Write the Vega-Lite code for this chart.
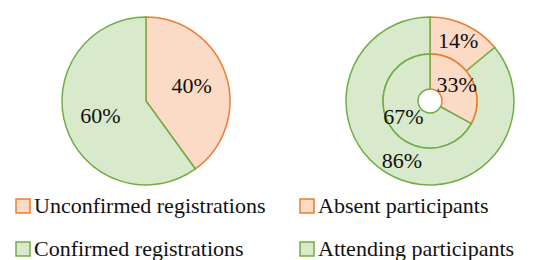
{
  "$schema": "https://vega.github.io/schema/vega-lite/v6.json",
  "width": 553,
  "height": 202,
  "padding": 0,
  "autosize": {"type": "pad"},
  "background": "white",
  "config": {"view": {"stroke": null}, "font": "Liberation Serif"},
  "data": {
    "values": [
      {"chart": "left", "ring": "pie", "cat": "Unconfirmed registrations", "ord": 1, "value": 40, "label": "40%"},
      {"chart": "left", "ring": "pie", "cat": "Confirmed registrations", "ord": 2, "value": 60, "label": "60%"},
      {"chart": "right", "ring": "outer", "cat": "Absent participants", "ord": 1, "value": 14, "label": "14%"},
      {"chart": "right", "ring": "outer", "cat": "Attending participants", "ord": 2, "value": 86, "label": "86%"},
      {"chart": "right", "ring": "inner", "cat": "Absent participants", "ord": 1, "value": 33, "label": "33%"},
      {"chart": "right", "ring": "inner", "cat": "Attending participants", "ord": 2, "value": 67, "label": "67%"}
    ]
  },
  "encoding": {
    "x": {"field": "chart", "type": "nominal", "scale": {"type": "point", "padding": 0, "domain": ["left", "right"], "range": [146, 430]}, "axis": null},
    "theta": {"field": "value", "type": "quantitative", "stack": true, "scale": {"domain": [0, 100]}},
    "order": {"field": "ord", "type": "quantitative"}
  },
  "layer": [
    {
      "transform": [{"filter": "datum.ring === 'pie'"}],
      "mark": {"type": "arc", "outerRadius": 84, "innerRadius": 0, "strokeWidth": 1.5},
      "encoding": {
        "fill": {"field": "cat", "type": "nominal",
          "scale": {"domain": ["Unconfirmed registrations", "Confirmed registrations", "Absent participants", "Attending participants"], "range": ["#fbdac6", "#d8e9cc", "#fbdac6", "#d8e9cc"]},
          "legend": {"title": null, "orient": "none", "legendX": 12, "legendY": 195, "columns": 2, "symbolType": "square", "symbolSize": 196, "symbolStrokeWidth": 1.5, "labelFontSize": 22, "labelColor": "#111", "labelLimit": 400, "labelOffset": 0, "rowPadding": 21, "columnPadding": 30}},
        "stroke": {"field": "cat", "type": "nominal",
          "scale": {"domain": ["Unconfirmed registrations", "Confirmed registrations", "Absent participants", "Attending participants"], "range": ["#ed7d31", "#70ad47", "#ed7d31", "#70ad47"]},
          "legend": {"title": null, "orient": "none", "legendX": 12, "legendY": 195, "columns": 2, "symbolType": "square", "symbolSize": 196, "symbolStrokeWidth": 1.5, "labelFontSize": 22, "labelColor": "#111", "labelLimit": 400, "labelOffset": 0, "rowPadding": 21, "columnPadding": 30}}
      }
    },
    {
      "transform": [{"filter": "datum.ring === 'outer'"}],
      "mark": {"type": "arc", "outerRadius": 84, "innerRadius": 47, "strokeWidth": 1.5},
      "encoding": {
        "fill": {"field": "cat", "type": "nominal"},
        "stroke": {"field": "cat", "type": "nominal"}
      }
    },
    {
      "transform": [{"filter": "datum.ring === 'inner'"}],
      "mark": {"type": "arc", "outerRadius": 47, "innerRadius": 12, "strokeWidth": 1.5},
      "encoding": {
        "fill": {"field": "cat", "type": "nominal"},
        "stroke": {"field": "cat", "type": "nominal"}
      }
    },
    {
      "transform": [{"filter": "datum.ring === 'pie'"}],
      "mark": {"type": "text", "radius": 48, "fontSize": 22, "color": "#111"},
      "encoding": {"text": {"field": "label"}, "detail": {"field": "cat"}}
    },
    {
      "transform": [{"filter": "datum.ring === 'outer'"}],
      "mark": {"type": "text", "radius": 66, "fontSize": 22, "color": "#111"},
      "encoding": {"text": {"field": "label"}, "detail": {"field": "cat"}}
    },
    {
      "transform": [{"filter": "datum.ring === 'inner'"}],
      "mark": {"type": "text", "radius": 31, "fontSize": 22, "color": "#111"},
      "encoding": {"text": {"field": "label"}, "detail": {"field": "cat"}}
    }
  ]
}
